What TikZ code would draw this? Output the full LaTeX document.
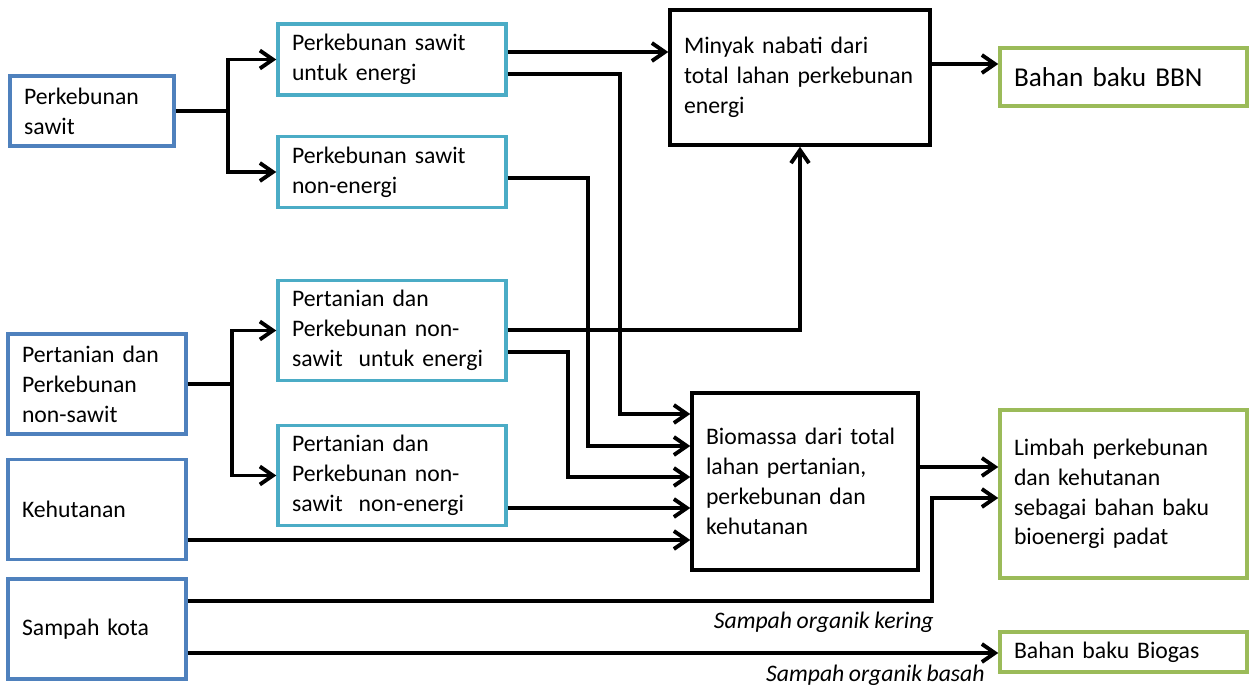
\documentclass[tikz,border=0pt]{standalone}
\usepackage{fontspec}
\setmainfont{Carlito}[WordSpace=0.85]
\usetikzlibrary{arrows.meta}
\definecolor{srcblue}{RGB}{79,129,189}
\definecolor{midteal}{RGB}{75,172,198}
\definecolor{outgreen}{RGB}{155,187,89}

\begin{document}
\begin{tikzpicture}[
	x=0.02cm, y=-0.02cm,
	base/.style={
		rectangle, line width=2pt, align=left, inner xsep=0.28cm,
		font=\fontsize{13.5}{17}\selectfont
	},
	srcbox/.style={base, draw=srcblue, text width=3.0cm, minimum height=2.0cm},
	midbox/.style={base, draw=midteal, text width=4.0cm},
	procbox/.style={base, draw=black},
	outbox/.style={base, draw=outgreen, text width=4.38cm},
	lbl/.style={font=\fontsize{13.5}{17}\selectfont\itshape, inner sep=0pt},
	arr/.style={-{Straight Barb[length=2.6mm,width=3.6mm]}, line width=2.2pt},
	]
	\useasboundingbox (0,0) rectangle (1249,686);
	
	% sources on the left
	\node[srcbox, text width=2.72cm, minimum height=1.4cm] (ps) at (92, 111) {
		Perkebunan\\sawit
	};
	\node[srcbox] (pn)  at (97, 384)   {Pertanian dan\\Perkebunan\\non-sawit};
	\node[srcbox] (keh) at (97, 509.5) {Kehutanan};
	\node[srcbox] (sk)  at (97, 629)   {Sampah kota};
	
	% split by use
	\node[midbox, minimum height=1.42cm] (pse)  at (392, 59.5)  {Perkebunan sawit\\untuk energi};
	\node[midbox, minimum height=1.42cm] (psn)  at (392, 172)   {Perkebunan sawit\\non-energi};
	\node[midbox, minimum height=2.0cm]  (pnse) at (392, 330.5) {
		Pertanian dan\\Perkebunan non-\\sawit\ \ untuk energi
	};
	\node[midbox, minimum height=2.0cm]  (pnsn) at (392, 475.5) {
		Pertanian dan\\Perkebunan non-\\sawit\ \ non-energi
	};
	
	% potentials
	\node[procbox, text width=4.64cm, minimum height=2.7cm] (mn) at (800, 77.5) {
		Minyak nabati dari\\total lahan perkebunan\\energi
	};
	\node[procbox, text width=3.96cm, minimum height=3.54cm] (bio) at (805, 481.5) {
		Biomassa dari total\\lahan pertanian,\\perkebunan dan\\kehutanan
	};
	
	% feedstocks
	\node[outbox, minimum height=1.16cm, font=\fontsize{15.5}{19}\selectfont] (bbn) at (1123.5, 77) {
		Bahan baku BBN
	};
	\node[outbox, minimum height=3.36cm] (lim) at (1123.5, 494) {
		Limbah perkebunan\\dan kehutanan\\sebagai bahan baku\\bioenergi padat
	};
	\node[outbox, minimum height=0.8cm] (biogas) at (1123.5, 652) {Bahan baku Biogas};
	
	\coordinate (j1) at (228, 111);
	\coordinate (j2) at (232, 384);
	
	\draw[arr] (ps.east) -- (j1) |- (pse.west);
	\draw[arr] (j1) |- (psn.west);
	\draw[arr] (pn.east) -- (j2) |- (pnse.west);
	\draw[arr] (j2) |- (pnsn.west);
	
	\draw[arr] (pse.east |- 0,52) -- (mn.west |- 0,52);
	\draw[arr] (mn.east |- 0,64) -- (bbn.west |- 0,64);
	\draw[arr] (pnse.east |- 0,330) -| (mn.south);
	
	\draw[arr] (pse.east |- 0,74)   -| (620,414) -- (bio.west |- 0,414);
	\draw[arr] (psn.east |- 0,178)  -| (588,446) -- (bio.west |- 0,446);
	\draw[arr] (pnse.east |- 0,352) -| (568,477) -- (bio.west |- 0,477);
	\draw[arr] (pnsn.east |- 0,508) -- (bio.west |- 0,508);
	\draw[arr] (keh.east |- 0,540)  -- (bio.west |- 0,540);
	
	\draw[arr] (bio.east |- 0,467) -- (lim.west |- 0,467);
	\draw[arr] (sk.east |- 0,601) -| (932,498) -- (lim.west |- 0,498);
	\draw[arr] (sk.east |- 0,653) -- (biogas.west |- 0,653);
	
	\node[lbl, anchor=east] (kering) at (934, 622) {Sampah organik kering};
	\node[lbl, anchor=east] (basah)  at (985, 675) {Sampah organik basah};
	
\end{tikzpicture}
\end{document}
